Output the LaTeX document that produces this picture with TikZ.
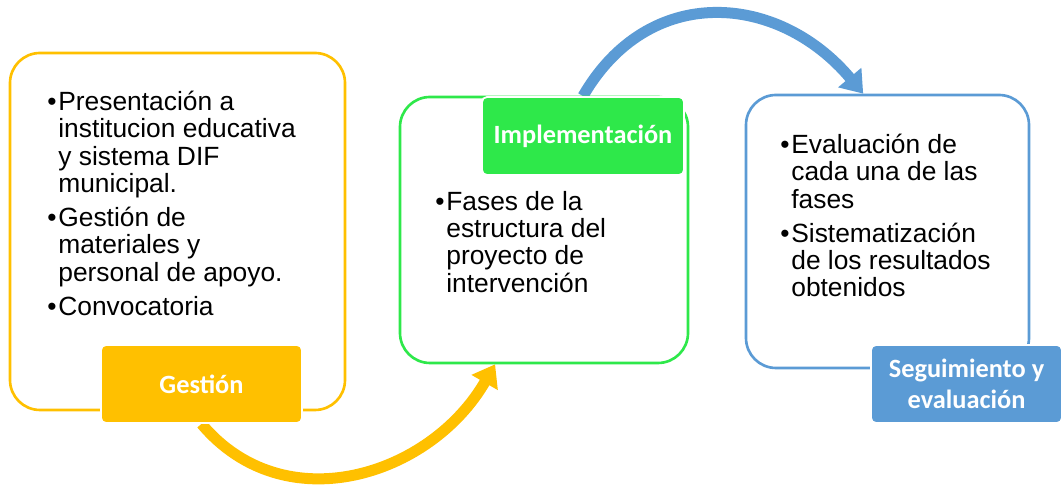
\documentclass[tikz,border=0pt]{standalone}
\usepackage{fontspec}
\setmainfont{Liberation Sans}
\newfontfamily\calibri{Carlito}
\usetikzlibrary{arrows.meta,backgrounds}
\definecolor{amarillo}{HTML}{FFC000}
\definecolor{verde}{HTML}{2EE84A}
\definecolor{azul}{HTML}{5B9BD5}
\newcommand{\bitem}{\makebox[0.22cm][l]{•}}
\newcommand{\bcont}{\hspace*{0.22cm}}

\begin{document}
\begin{tikzpicture}
\useasboundingbox (0,0) rectangle (21.24,9.74);

\begin{scope}[every node/.style={draw,rounded corners=0.6cm,line width=1.5pt,fill=white}]
    \node[draw=amarillo,minimum width=6.7cm,minimum height=7.14cm] (gb) at (3.55,5.11) {};
    \node[draw=verde,minimum width=5.76cm,minimum height=5.32cm] (ib) at (10.88,5.14) {};
    \node[draw=azul,minimum width=5.66cm,minimum height=5.46cm] (sb) at (17.75,5.11) {};
\end{scope}

\begin{scope}[every node/.style={rounded corners=0.1cm,draw=white,line width=1pt,text=white,
              font=\calibri\bfseries\fontsize{15}{17.5}\selectfont,align=center,minimum height=1.56cm}]
    \node[fill=amarillo,minimum width=4.02cm] (gl) at (4.03,2.06) {Gestión};
    \node[fill=verde,minimum width=4.04cm] (il) at (11.66,7.02) {Implementación};
    \node[fill=azul,minimum width=3.82cm] (sl) at (19.33,2.06) {Seguimiento y\\evaluación};
\end{scope}

\begin{scope}[every node/.style={anchor=north west,align=left,inner sep=0pt,
              font=\fontsize{15}{15.5}\selectfont}]
    \node (gt) at (0.94,7.92) {\bitem Presentación a\\ \bcont institucion educativa\\ \bcont y sistema DIF\\ \bcont municipal.\\[4pt]
        \bitem Gestión de\\ \bcont materiales y\\ \bcont personal de apoyo.\\[4pt]
        \bitem Convocatoria};
    \node (it) at (8.7,5.92) {\bitem Fases de la\\ \bcont estructura del\\ \bcont proyecto de\\ \bcont intervención};
    \node (st) at (15.6,7.06) {\bitem Evaluación de\\ \bcont cada una de las\\ \bcont fases\\[4pt]
        \bitem Sistematización\\ \bcont de los resultados\\ \bcont obtenidos};
\end{scope}

\begin{scope}[on background layer,
              every edge/.style={draw,line width=0.22cm,-{Triangle[width=0.58cm,length=0.42cm]}}]
    \path (gl.south) edge[amarillo,out=-50,in=240,looseness=1.1] (ib.-110);
    \path (il.north) edge[azul,out=60,in=130,looseness=1.2] (sb.100);
\end{scope}
\end{tikzpicture}
\end{document}
